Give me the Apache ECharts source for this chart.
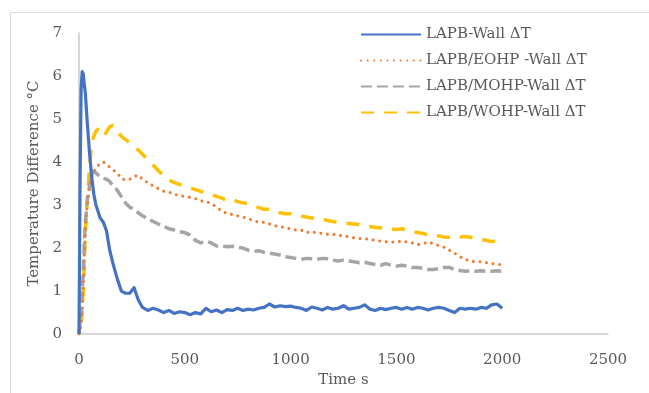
<!DOCTYPE html>
<html>
<head>
<meta charset="utf-8">
<script src="https://cdn.jsdelivr.net/npm/echarts@6/dist/echarts.min.js"></script>
<style>
  html, body { margin: 0; padding: 0; background: #ffffff; }
  #chart { width: 649px; height: 393px; }
</style>
</head>
<body>
<div id="chart"></div>
<script>
// Elapsed time in seconds (shared by all four series)
const timeS = [
  0, 5, 10, 15, 20, 25, 30, 40, 50, 60, 70, 80, 90, 100, 115, 130, 145, 160, 180, 200,
  220, 240, 260, 280, 300, 325, 350, 375, 400, 425, 450, 475, 500, 525, 550, 575, 600,
  625, 650, 675, 700, 725, 750, 775, 800, 825, 850, 875, 900, 925, 950, 975, 1000,
  1025, 1050, 1075, 1100, 1125, 1150, 1175, 1200, 1225, 1250, 1275, 1300, 1325, 1350,
  1375, 1400, 1425, 1450, 1475, 1500, 1525, 1550, 1575, 1600, 1625, 1650, 1675, 1700,
  1725, 1750, 1775, 1800, 1825, 1850, 1875, 1900, 1925, 1950, 1975, 2000
];

// LAPB-Wall ΔT
const lapbWall = [
  0, 3.5, 5.7, 6.1, 6.05, 5.8, 5.6, 4.85, 4.2, 3.65, 3.25, 3.0, 2.85, 2.7, 2.6, 2.4, 1.95, 1.65, 1.3, 1.0,
  0.95, 0.95, 1.08, 0.8, 0.62, 0.55, 0.6, 0.56, 0.5, 0.55, 0.48, 0.52, 0.5, 0.45, 0.5, 0.47, 0.6,
  0.52, 0.56, 0.5, 0.57, 0.55, 0.6, 0.55, 0.58, 0.56, 0.6, 0.62, 0.7, 0.63, 0.66, 0.64, 0.65,
  0.62, 0.6, 0.55, 0.63, 0.6, 0.56, 0.62, 0.58, 0.6, 0.66, 0.58, 0.6, 0.62, 0.68,
  0.58, 0.55, 0.6, 0.57, 0.6, 0.62, 0.58, 0.62, 0.58, 0.62, 0.6, 0.56, 0.6, 0.62,
  0.6, 0.55, 0.5, 0.6, 0.58, 0.6, 0.58, 0.62, 0.6, 0.68, 0.7, 0.6
];

// LAPB/EOHP-Wall ΔT
const eohpWall = [
  0, 0.1, 0.2, 0.5, 1.2, 1.8, 2.4, 3.1, 3.4, 3.65, 3.78, 3.85, 3.92, 3.95, 4.0, 3.95, 3.88, 3.82, 3.75, 3.62,
  3.58, 3.6, 3.66, 3.7, 3.6, 3.52, 3.45, 3.38, 3.32, 3.3, 3.25, 3.22, 3.2, 3.18, 3.15, 3.1, 3.08,
  3.04, 2.95, 2.86, 2.8, 2.78, 2.75, 2.72, 2.68, 2.64, 2.6, 2.6, 2.56, 2.52, 2.5, 2.47, 2.45,
  2.42, 2.42, 2.36, 2.38, 2.35, 2.34, 2.32, 2.32, 2.3, 2.28, 2.26, 2.24, 2.22, 2.22,
  2.2, 2.18, 2.16, 2.15, 2.14, 2.14, 2.16, 2.14, 2.12, 2.08, 2.1, 2.14, 2.1, 2.06,
  2.02, 1.95, 1.88, 1.8, 1.74, 1.7, 1.68, 1.68, 1.66, 1.64, 1.62, 1.62
];

// LAPB/MOHP-Wall ΔT
const mohpWall = [
  0, 0.3, 0.5, 1.0, 1.4, 2.1, 2.6, 3.15, 3.45, 3.72, 3.78, 3.75, 3.7, 3.66, 3.62, 3.6, 3.55, 3.45, 3.35, 3.2,
  3.05, 2.95, 2.9, 2.82, 2.75, 2.68, 2.62, 2.56, 2.5, 2.45, 2.42, 2.38, 2.36, 2.3, 2.18, 2.12, 2.16,
  2.12, 2.05, 2.05, 2.03, 2.04, 2.02, 2.0, 1.95, 1.92, 1.94, 1.9, 1.88, 1.86, 1.84, 1.8, 1.78,
  1.76, 1.74, 1.76, 1.75, 1.74, 1.76, 1.75, 1.72, 1.7, 1.72, 1.7, 1.68, 1.66, 1.67,
  1.64, 1.62, 1.6, 1.64, 1.6, 1.58, 1.6, 1.58, 1.55, 1.55, 1.53, 1.5, 1.5, 1.52,
  1.55, 1.55, 1.5, 1.48, 1.46, 1.47, 1.46, 1.47, 1.46, 1.46, 1.47, 1.46
];

// LAPB/WOHP-Wall ΔT
const wohpWall = [
  0.3, 0.3, 0.3, 0.5, 1.0, 1.6, 2.4, 3.15, 3.9, 4.45, 4.6, 4.72, 4.76, 4.66, 4.6, 4.7, 4.82, 4.85, 4.72, 4.6,
  4.52, 4.45, 4.37, 4.28, 4.18, 4.05, 3.93, 3.8, 3.68, 3.58, 3.52, 3.48, 3.45, 3.4, 3.36, 3.32, 3.28,
  3.25, 3.2, 3.16, 3.1, 3.13, 3.08, 3.05, 3.04, 2.98, 2.94, 2.9, 2.9, 2.86, 2.82, 2.8, 2.8,
  2.76, 2.74, 2.72, 2.7, 2.68, 2.67, 2.64, 2.62, 2.6, 2.58, 2.57, 2.56, 2.55, 2.52,
  2.5, 2.48, 2.47, 2.46, 2.44, 2.43, 2.45, 2.42, 2.38, 2.36, 2.34, 2.3, 2.3, 2.28,
  2.26, 2.25, 2.28, 2.26, 2.27, 2.25, 2.23, 2.2, 2.18, 2.15, 2.17, 2.18
];

const seriesNames = [
  'LAPB-Wall ΔT',
  'LAPB/EOHP -Wall ΔT',
  'LAPB/MOHP-Wall ΔT',
  'LAPB/WOHP-Wall ΔT'
];

const xTicks = { min: 0, max: 2500, step: 500 };
const yTicks = { min: 0, max: 7, step: 1 };

const pairs = (vals) => timeS.map((t, i) => [t, vals[i]]);

const FONT = 'DejaVu Serif';
const TXT = '#595959';

const chart = echarts.init(document.getElementById('chart'), null, { renderer: 'canvas' });

const lineSeries = (name, vals, color, width, type, cap) => ({
  name,
  type: 'line',
  data: pairs(vals),
  symbol: 'none',
  smooth: false,
  animation: false,
  lineStyle: { color, width, type, cap: cap || 'butt', join: 'round' },
  itemStyle: { color }
});

chart.setOption({
  animation: false,
  backgroundColor: '#ffffff',
  graphic: [{
    type: 'rect',
    shape: { x: 10.5, y: 12.5, width: 700, height: 420 },
    style: { fill: 'none', stroke: '#D9D9D9', lineWidth: 1 },
    silent: true,
    z: -1
  }],
  grid: { left: 79, right: 41, top: 33, bottom: 52, containLabel: false },
  legend: {
    orient: 'vertical',
    left: 355,
    top: 22,
    itemWidth: 60,
    itemHeight: 14,
    itemGap: 11,
    itemStyle: { opacity: 0 },
    textStyle: { fontFamily: FONT, fontSize: 15, color: TXT },
    data: seriesNames
  },
  xAxis: {
    type: 'value',
    min: xTicks.min,
    max: xTicks.max,
    interval: xTicks.step,
    name: 'Time s',
    nameLocation: 'middle',
    nameGap: 38,
    nameTextStyle: { fontFamily: FONT, fontSize: 15, color: TXT },
    axisLine: { show: true, lineStyle: { color: '#C9C9C9', width: 1.5 } },
    axisTick: { show: false },
    splitLine: { show: false },
    axisLabel: { fontFamily: FONT, fontSize: 15, color: TXT, margin: 19, formatter: (v) => String(v) }
  },
  yAxis: {
    type: 'value',
    min: yTicks.min,
    max: yTicks.max,
    interval: yTicks.step,
    name: 'Temperature Difference °C',
    nameLocation: 'middle',
    nameGap: 28,
    nameRotate: 90,
    nameTextStyle: { fontFamily: FONT, fontSize: 15, color: TXT },
    axisLine: { show: true, lineStyle: { color: '#C9C9C9', width: 1.5 } },
    axisTick: { show: false },
    splitLine: { show: false },
    axisLabel: { fontFamily: FONT, fontSize: 15, color: TXT, margin: 17 }
  },
  series: [
    lineSeries(seriesNames[3], wohpWall, '#FFC000', 3.5, [13, 10]),
    lineSeries(seriesNames[2], mohpWall, '#A5A5A5', 3.5, [11, 5]),
    lineSeries(seriesNames[1], eohpWall, '#ED7D31', 3, [0.1, 6.5], 'round'),
    lineSeries(seriesNames[0], lapbWall, '#4472C4', 3.2, 'solid')
  ]
});
</script>
</body>
</html>
